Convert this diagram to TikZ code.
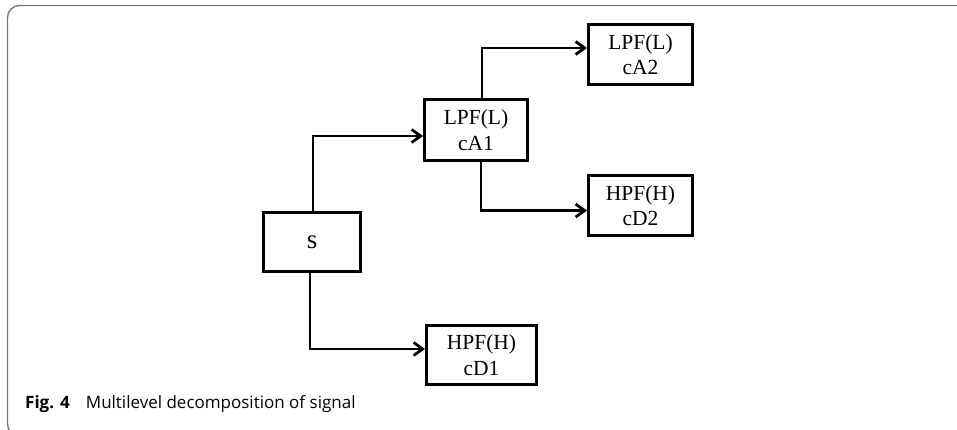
\documentclass[tikz,border=0pt]{standalone}
\usepackage{fontspec}
\setmainfont{Liberation Serif}
\newfontfamily\capfont{Open Sans}
\usetikzlibrary{arrows.meta}
\definecolor{framegray}{RGB}{120,120,120}
\tikzset{
  box/.style={draw, line width=3pt, inner sep=0pt, align=center,
    font=\fontsize{21.5}{25.5}\selectfont},
  arr/.style={line width=2.8pt, -{Straight Barb[length=9pt,width=13pt,line width=2.8pt]}},
  frameline/.style={draw=framegray, line width=1.4pt, rounded corners=12pt},
  captxt/.style={anchor=base west, inner sep=0pt, font=\capfont\fontsize{17}{20}\selectfont}
}
\begin{document}
\begin{tikzpicture}[x=1pt,y=-1pt]
\useasboundingbox (0,0) rectangle (957,429);
\clip (0,0) rectangle (957,429);
\draw[frameline] (975,5.5) -- (7.5,5.5) -- (7.5,436) -- (975,436);
% boxes
\node[box, minimum width=97pt, minimum height=59pt] (S) at (312,242) {\fontsize{27}{30}\selectfont s};
\node[box, minimum width=103pt, minimum height=61pt] (cA1) at (476,130) {LPF(L)\\cA1};
\node[box, minimum width=104pt, minimum height=60pt] (cA2) at (640.5,54.5) {LPF(L)\\cA2};
\node[box, minimum width=104pt, minimum height=60pt] (cD2) at (640.5,205.5) {HPF(H)\\cD2};
\node[box, minimum width=110pt, minimum height=59pt] (cD1) at (481.5,355) {HPF(H)\\cD1};
% connectors
\draw[arr] ([xshift=1pt]S.north) |- ([yshift=-6pt]cA1.west);
\draw[arr] ([xshift=-2pt]S.south) |- ([yshift=6pt]cD1.west);
\draw[arr] ([xshift=6pt]cA1.north) |- ([yshift=6.5pt]cA2.west);
\draw[arr] ([xshift=5pt]cA1.south) |- ([yshift=-5pt]cD2.west);
% caption
\node[captxt] (figlbl) at (25,408.3) {\bfseries Fig. 4};
\node[captxt] (figcap) at (85.7,408.3) {Multilevel decomposition of signal};
\end{tikzpicture}
\end{document}
